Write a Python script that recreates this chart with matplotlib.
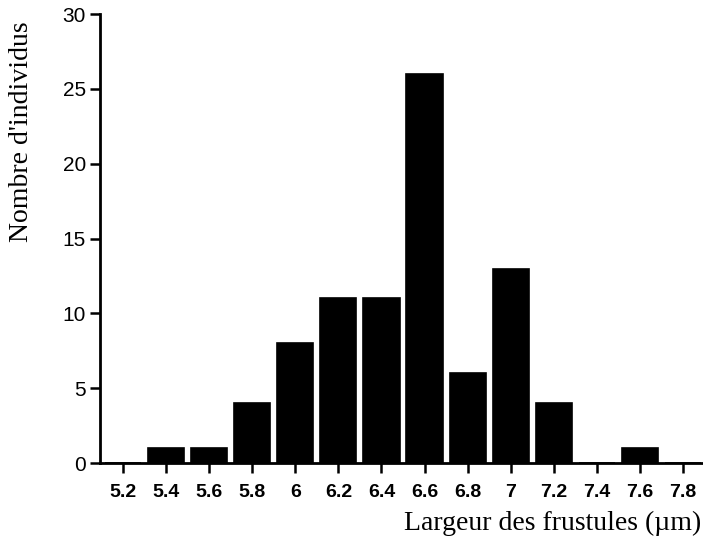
import matplotlib
matplotlib.use("Agg")
import matplotlib.pyplot as plt

# largeur des frustules (um) et effectifs
widths = [5.2, 5.4, 5.6, 5.8, 6.0, 6.2, 6.4, 6.6, 6.8, 7.0, 7.2, 7.4, 7.6, 7.8]
counts = [0, 1, 1, 4, 8, 11, 11, 26, 6, 13, 4, 0, 1, 0]
tick_labels = ["5.2", "5.4", "5.6", "5.8", "6", "6.2", "6.4", "6.6", "6.8", "7", "7.2", "7.4", "7.6", "7.8"]

fig = plt.figure(figsize=(7.03, 5.46), dpi=100)
ax = fig.add_axes([0.1422, 0.152, 0.8578, 0.822])

ax.bar(widths, counts, width=0.168, color="black", edgecolor="black", linewidth=1.2)

ax.set_xlim(5.093, 7.893)
ax.set_ylim(0, 30)
ax.set_yticks([0, 5, 10, 15, 20, 25, 30])
ax.set_xticks(widths)
ax.set_xticklabels(tick_labels)

for s in ["top", "right"]:
    ax.spines[s].set_visible(False)
ax.spines["left"].set_linewidth(2)
ax.spines["bottom"].set_linewidth(2)

ax.tick_params(axis="y", direction="out", length=7, width=1.8, labelsize=15, pad=3)
ax.tick_params(axis="x", direction="out", length=7, width=1.8, labelsize=14, pad=8)
for t in ax.get_yticklabels():
    t.set_family("Liberation Sans")
for t in ax.get_xticklabels():
    t.set_family("Liberation Sans")
    t.set_fontweight("bold")

fig.text(0.031, 0.758, "Nombre d'individus", rotation=90, ha="center", va="center",
         fontsize=20, family="Liberation Serif")
fig.text(0.997, 0.042, "Largeur des frustules (\u00b5m)", ha="right", va="center",
         fontsize=20, family="Liberation Serif")

fig.savefig("out.png", dpi=100)
plt.close(fig)
